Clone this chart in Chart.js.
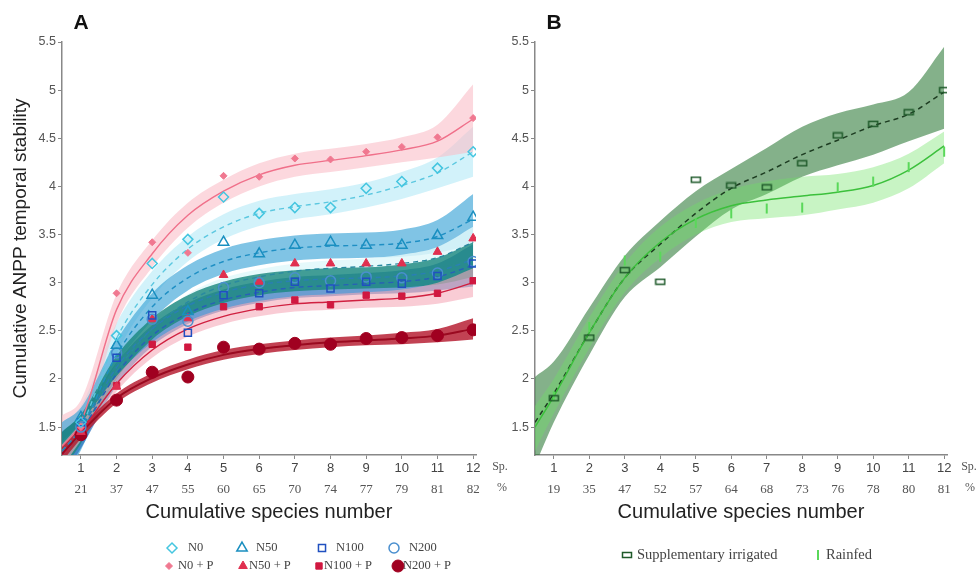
<!DOCTYPE html>
<html lang="en">
<head>
<meta charset="UTF-8">
<title>Cumulative ANPP temporal stability</title>
<script src="https://cdn.jsdelivr.net/npm/chart.js"></script>
<style>
    body { margin: 0; background: #fff; }
    .panel { position: absolute; top: 0; width: 490px; height: 574px; }
    #panelA { left: 0; }
    #panelB { left: 490px; }
</style>
</head>
<body>
<div class="panel" id="panelA"><canvas id="chartA" width="490" height="574"></canvas></div>
<div class="panel" id="panelB"><canvas id="chartB" width="490" height="574"></canvas></div>
<script>
// ---- data ----
const speciesTicks = [1, 2, 3, 4, 5, 6, 7, 8, 9, 10, 11, 12];
const pctA = ['21', '37', '47', '55', '60', '65', '70', '74', '77', '79', '81', '82'];
const pctB = ['19', '35', '47', '52', '57', '64', '68', '73', '76', '78', '80', '81'];
const yTicks = [1.5, 2, 2.5, 3, 3.5, 4, 4.5, 5, 5.5];
const fitX = [0.47, 1, 2, 3, 4, 5, 6, 7, 8, 9, 10, 11, 12];

// panel A: observed points (x = 1..12)
const n0Pts    = [1.55, 2.45, 3.20, 3.45, 3.89, 3.72, 3.78, 3.78, 3.98, 4.05, 4.19, 4.36];
const n50Pts   = [1.60, 2.35, 2.87, 2.70, 3.42, 3.30, 3.39, 3.42, 3.39, 3.39, 3.49, 3.68];
const n100Pts  = [1.55, 2.22, 2.66, 2.48, 2.87, 2.89, 3.01, 2.94, 3.01, 2.99, 3.07, 3.20];
const n200Pts  = [1.50, 2.27, 2.62, 2.60, 2.95, 3.00, 3.05, 3.02, 3.06, 3.05, 3.10, 3.22];
const n0pPts   = [1.50, 2.89, 3.42, 3.31, 4.11, 4.10, 4.29, 4.28, 4.36, 4.41, 4.51, 4.71];
const n50pPts  = [1.45, 1.92, 2.62, 2.63, 3.08, 3.01, 3.20, 3.20, 3.20, 3.20, 3.32, 3.46];
const n100pPts = [1.47, 1.93, 2.36, 2.33, 2.75, 2.75, 2.82, 2.77, 2.87, 2.86, 2.89, 3.02];
const n200pPts = [1.42, 1.78, 2.07, 2.02, 2.33, 2.31, 2.37, 2.36, 2.42, 2.43, 2.45, 2.51];

// panel A: fitted curves and confidence bands (at fitX)
const n0Fit    = [1.25, 1.50, 2.42, 2.98, 3.35, 3.58, 3.72, 3.79, 3.84, 3.91, 4.01, 4.14, 4.36];
const n0Up     = [1.55, 1.72, 2.58, 3.12, 3.48, 3.71, 3.85, 3.92, 3.97, 4.04, 4.15, 4.30, 4.62];
const n0Lo     = [0.95, 1.28, 2.26, 2.84, 3.22, 3.45, 3.59, 3.66, 3.71, 3.78, 3.87, 3.98, 4.10];
const n50Fit   = [1.25, 1.48, 2.25, 2.75, 3.05, 3.22, 3.31, 3.36, 3.38, 3.39, 3.41, 3.48, 3.66];
const n50Up    = [1.55, 1.70, 2.40, 2.89, 3.18, 3.35, 3.44, 3.49, 3.51, 3.52, 3.55, 3.65, 3.92];
const n50Lo    = [0.95, 1.26, 2.10, 2.61, 2.92, 3.09, 3.18, 3.23, 3.25, 3.26, 3.27, 3.31, 3.40];
const n100Fit  = [1.22, 1.45, 2.05, 2.45, 2.68, 2.82, 2.90, 2.95, 2.97, 2.99, 3.01, 3.06, 3.18];
const n100Up   = [1.45, 1.62, 2.17, 2.56, 2.79, 2.93, 3.01, 3.06, 3.08, 3.10, 3.13, 3.20, 3.40];
const n100Lo   = [0.99, 1.28, 1.93, 2.34, 2.57, 2.71, 2.79, 2.84, 2.86, 2.88, 2.89, 2.92, 2.96];
const n200Fit  = [1.25, 1.48, 2.12, 2.52, 2.76, 2.90, 2.98, 3.02, 3.04, 3.05, 3.07, 3.12, 3.24];
const n200Up   = [1.45, 1.63, 2.24, 2.63, 2.87, 3.01, 3.09, 3.13, 3.15, 3.16, 3.19, 3.26, 3.42];
const n200Lo   = [1.05, 1.33, 2.00, 2.41, 2.65, 2.79, 2.87, 2.91, 2.93, 2.94, 2.95, 2.98, 3.06];
const n0pFit   = [1.30, 1.55, 2.72, 3.30, 3.70, 3.95, 4.12, 4.22, 4.27, 4.32, 4.38, 4.47, 4.70];
const n0pUp    = [1.62, 1.78, 2.88, 3.44, 3.83, 4.07, 4.24, 4.34, 4.39, 4.44, 4.51, 4.64, 5.06];
const n0pLo    = [1.00, 1.33, 2.57, 3.16, 3.57, 3.83, 4.00, 4.10, 4.15, 4.20, 4.25, 4.30, 4.36];
const n50pFit  = [1.20, 1.45, 2.08, 2.52, 2.80, 2.97, 3.06, 3.12, 3.15, 3.17, 3.20, 3.26, 3.42];
const n50pUp   = [1.35, 1.55, 2.16, 2.60, 2.88, 3.05, 3.14, 3.20, 3.23, 3.25, 3.29, 3.37, 3.58];
const n50pLo   = [1.05, 1.35, 2.00, 2.44, 2.72, 2.89, 2.98, 3.04, 3.07, 3.09, 3.11, 3.15, 3.26];
const n100pFit = [1.20, 1.45, 1.95, 2.30, 2.52, 2.65, 2.73, 2.78, 2.80, 2.82, 2.84, 2.89, 3.00];
const n100pUp  = [1.32, 1.54, 2.03, 2.38, 2.60, 2.73, 2.81, 2.86, 2.88, 2.90, 2.93, 3.00, 3.15];
const n100pLo  = [1.08, 1.36, 1.87, 2.22, 2.44, 2.57, 2.65, 2.70, 2.72, 2.74, 2.75, 2.78, 2.85];
const n200pFit = [1.22, 1.44, 1.80, 2.01, 2.15, 2.25, 2.31, 2.35, 2.38, 2.40, 2.42, 2.45, 2.52];
const n200pUp  = [1.30, 1.50, 1.85, 2.06, 2.20, 2.30, 2.36, 2.40, 2.43, 2.45, 2.48, 2.52, 2.63];
const n200pLo  = [1.14, 1.38, 1.75, 1.96, 2.10, 2.20, 2.26, 2.30, 2.33, 2.35, 2.36, 2.38, 2.41];

// panel B
const irrPts  = [1.80, 2.43, 3.13, 3.01, 4.07, 4.01, 3.99, 4.24, 4.53, 4.65, 4.77, 5.00];
const irrFit  = [1.55, 1.85, 2.48, 3.05, 3.40, 3.72, 3.98, 4.15, 4.33, 4.48, 4.63, 4.75, 4.98];
const irrUp   = [2.02, 2.18, 2.74, 3.28, 3.64, 3.95, 4.18, 4.40, 4.62, 4.76, 4.85, 4.98, 5.45];
const irrLo   = [1.10, 1.55, 2.25, 2.85, 3.16, 3.48, 3.76, 3.92, 4.10, 4.22, 4.33, 4.47, 4.60];
const rainPts = [1.82, 2.54, 3.23, 3.27, 3.62, 3.72, 3.77, 3.78, 3.99, 4.05, 4.20, 4.36];
const rainFit = [1.50, 1.82, 2.48, 3.05, 3.42, 3.66, 3.80, 3.86, 3.90, 3.94, 4.01, 4.17, 4.42];
const rainUp  = [1.72, 2.00, 2.64, 3.20, 3.58, 3.82, 3.97, 4.05, 4.10, 4.13, 4.20, 4.34, 4.57];
const rainLo  = [1.25, 1.64, 2.32, 2.90, 3.26, 3.50, 3.63, 3.67, 3.70, 3.76, 3.83, 3.98, 4.24];

const SANS = "'Liberation Sans', Arial, sans-serif";
const SERIF = "'Liberation Serif', 'Times New Roman', serif";

const xy = (xs, ys) => ys.map((y, i) => ({ x: xs[i], y: y }));

function band(up, lo, color) {
    return [
        { data: xy(fitX, up), borderWidth: 0, pointRadius: 0, fill: '+1', backgroundColor: color, cubicInterpolationMode: 'monotone', order: 3 },
        { data: xy(fitX, lo), borderWidth: 0, pointRadius: 0, fill: false, cubicInterpolationMode: 'monotone', order: 3 }
    ];
}

function curve(fit, color, dashed, width) {
    return { data: xy(fitX, fit), borderColor: color, borderWidth: width || 1.4, borderDash: dashed ? [5, 4] : [], pointRadius: 0, fill: false, cubicInterpolationMode: 'monotone', order: 2 };
}

function marks(label, pts, style, radius, fill, stroke, bw, rot) {
    return { label: label, data: xy(speciesTicks, pts), showLine: false, pointStyle: style, pointRadius: radius, pointBackgroundColor: fill, pointBorderColor: stroke, pointBorderWidth: bw, pointRotation: rot || 0, order: 1 };
}

function buildScales(pct, yTitle, yWidth) {
    return {
        x: {
            type: 'linear', position: 'bottom', min: 0.47, max: 12.08, weight: 0,
            afterBuildTicks: s => { s.ticks = speciesTicks.map(v => ({ value: v })); },
            afterFit: s => { s.height = 24; },
            grid: { display: true, drawOnChartArea: false, drawTicks: true, tickLength: 4, color: '#888' },
            border: { display: true, color: '#888', width: 1.5 },
            ticks: { autoSkip: false, maxRotation: 0, padding: 2, color: '#444', font: { family: SANS, size: 13 },
                     callback: v => String(v) }
        },
        xp: {
            type: 'linear', position: 'bottom', min: 0.47, max: 12.08, weight: 1,
            afterBuildTicks: s => { s.ticks = speciesTicks.map(v => ({ value: v })); },
            afterFit: s => { s.height = 49; },
            grid: { display: false, drawTicks: false },
            border: { display: false },
            ticks: { autoSkip: false, maxRotation: 0, padding: 3, color: '#555', font: { family: SERIF, size: 13 },
                     callback: (v, i) => pct[i] },
            title: { display: true, text: 'Cumulative species number', color: '#222', font: { family: SANS, size: 20 }, padding: { top: 0, bottom: 4 } }
        },
        y: {
            type: 'linear', min: 1.21, max: 5.5,
            afterBuildTicks: s => { s.ticks = yTicks.map(v => ({ value: v })); },
            afterFit: s => { s.width = yWidth; },
            grid: { display: true, drawOnChartArea: false, drawTicks: true, tickLength: 4, color: '#888' },
            border: { display: true, color: '#888', width: 1.5 },
            ticks: { padding: 2, color: '#555', font: { family: SANS, size: 12.5 }, callback: v => String(v) },
            title: { display: !!yTitle, text: yTitle || '', color: '#222', font: { family: SANS, size: 19 }, padding: { top: 9 } }
        }
    };
}

// letters, legend and axis side labels
const decoPlugin = {
    id: 'deco',
    afterDraw(chart, args, opts) {
        const ctx = chart.ctx;
        ctx.save();
        ctx.fillStyle = '#111';
        ctx.font = 'bold 21px ' + SANS;
        ctx.textAlign = 'center';
        ctx.textBaseline = 'middle';
        ctx.fillText(opts.letter, opts.letterX, 23);

        (opts.side || []).forEach(t => {
            ctx.fillStyle = '#555';
            ctx.font = '12px ' + SERIF;
            ctx.fillText(t.text, t.x, t.y);
        });

        (opts.legend || []).forEach(item => {
            const ds = chart.data.datasets[item.ds];
            ctx.fillStyle = ds.pointBackgroundColor;
            ctx.strokeStyle = ds.pointBorderColor;
            ctx.lineWidth = ds.pointBorderWidth;
            Chart.helpers.drawPoint(ctx, {
                pointStyle: ds.pointStyle, radius: item.r || ds.pointRadius,
                rotation: ds.pointRotation, borderWidth: ds.pointBorderWidth
            }, item.mx, item.y);
            ctx.fillStyle = '#444';
            ctx.font = opts.legendFont;
            ctx.textAlign = 'left';
            ctx.textBaseline = 'middle';
            ctx.fillText(ds.label, item.tx, item.y);
        });
        ctx.restore();
    }
};

// ---- panel A ----
const dsA = [].concat(
    band(n200pUp, n200pLo, 'rgba(180,25,45,0.82)'),
    band(n100pUp, n100pLo, 'rgba(245,170,185,0.6)'),
    band(n200Up, n200Lo, 'rgba(25,135,125,0.8)'),
    band(n100Up, n100Lo, 'rgba(45,115,190,0.7)'),
    band(n50pUp, n50pLo, 'rgba(225,248,250,0.85)'),
    band(n50Up, n50Lo, 'rgba(60,165,215,0.65)'),
    band(n0pUp, n0pLo, 'rgba(250,190,200,0.6)'),
    band(n0Up, n0Lo, 'rgba(195,238,248,0.75)'),
    [
        curve(n200pFit, '#9a0a20', false, 2),
        curve(n100pFit, '#d02040', false),
        curve(n200Fit, '#2a7fb5', true),
        curve(n100Fit, '#2860b8', true),
        curve(n50pFit, '#2a8aa0', true),
        curve(n50Fit, '#1f8fc4', true),
        curve(n0pFit, '#f0708a', false),
        curve(n0Fit, '#5cc8e0', true)
    ]
);
const firstMarkA = dsA.length;
dsA.push(
    marks('N0', n0Pts, 'rectRot', 5, 'rgba(0,0,0,0)', '#45c6e0', 1.5),
    marks('N50', n50Pts, 'triangle', 6, 'rgba(0,0,0,0)', '#1a8fc0', 1.5),
    marks('N100', n100Pts, 'rect', 5, 'rgba(0,0,0,0)', '#2050c0', 1.5),
    marks('N200', n200Pts, 'circle', 5, 'rgba(0,0,0,0)', '#4a8fcf', 1.5),
    marks('N0 + P', n0pPts, 'rectRot', 3.5, '#f07890', '#f07890', 1),
    marks('N50 + P', n50pPts, 'triangle', 5, '#e03050', '#e03050', 1),
    marks('N100 + P', n100pPts, 'rect', 4.5, '#d01840', '#d01840', 1),
    marks('N200 + P', n200pPts, 'circle', 6, '#a00020', '#a00020', 1)
);

new Chart(document.getElementById('chartA'), {
    type: 'line',
    data: { datasets: dsA },
    options: {
        responsive: false,
        animation: false,
        layout: { padding: { top: 42, right: 14, bottom: 46, left: 0 } },
        scales: buildScales(pctA, 'Cumulative ANPP temporal stability', 62),
        plugins: {
            legend: { display: false },
            tooltip: { enabled: false },
            deco: {
                letter: 'A', letterX: 81,
                legendFont: '12.5px ' + SERIF,
                legend: [
                    { ds: firstMarkA,     mx: 172, tx: 188, y: 548 },
                    { ds: firstMarkA + 1, mx: 242, tx: 256, y: 548 },
                    { ds: firstMarkA + 2, mx: 322, tx: 336, y: 548 },
                    { ds: firstMarkA + 3, mx: 394, tx: 409, y: 548 },
                    { ds: firstMarkA + 4, mx: 169, tx: 178, y: 566 },
                    { ds: firstMarkA + 5, mx: 243, tx: 249, y: 566 },
                    { ds: firstMarkA + 6, mx: 319, tx: 324, y: 566 },
                    { ds: firstMarkA + 7, mx: 398, tx: 403, y: 566 }
                ]
            }
        }
    },
    plugins: [decoPlugin]
});

// ---- panel B ----
const irrMark = document.createElement('canvas');
irrMark.width = 12;
irrMark.height = 8;
const im = irrMark.getContext('2d');
im.strokeStyle = '#1f5a2a';
im.lineWidth = 1.5;
im.strokeRect(1.5, 1.5, 9, 5);

const dsB = [].concat(
    band(rainUp, rainLo, 'rgba(110,225,100,0.38)'),
    band(irrUp, irrLo, 'rgba(50,125,60,0.6)'),
    [
        curve(rainFit, '#3cc03c', false, 1.5),
        curve(irrFit, '#1e3d22', true, 1.5)
    ]
);
const firstMarkB = dsB.length;
dsB.push(
    marks('Supplementary irrigated', irrPts, irrMark, 5, 'rgba(0,0,0,0)', '#1f5a2a', 1.5),
    marks('Rainfed', rainPts, 'line', 5, '#5ad85a', '#5ad85a', 2, 90)
);

new Chart(document.getElementById('chartB'), {
    type: 'line',
    data: { datasets: dsB },
    options: {
        responsive: false,
        animation: false,
        layout: { padding: { top: 42, right: 33, bottom: 46, left: 0 } },
        scales: buildScales(pctB, null, 45),
        plugins: {
            legend: { display: false },
            tooltip: { enabled: false },
            deco: {
                letter: 'B', letterX: 64,
                legendFont: '14.5px ' + SERIF,
                side: [
                    { text: 'Sp.', x: 10, y: 467 },
                    { text: '%', x: 12, y: 488 },
                    { text: 'Sp.', x: 479, y: 467 },
                    { text: '%', x: 480, y: 488 }
                ],
                legend: [
                    { ds: firstMarkB,     mx: 137, tx: 147, y: 555 },
                    { ds: firstMarkB + 1, mx: 328, tx: 336, y: 555 }
                ]
            }
        }
    },
    plugins: [decoPlugin]
});
</script>
</body>
</html>
